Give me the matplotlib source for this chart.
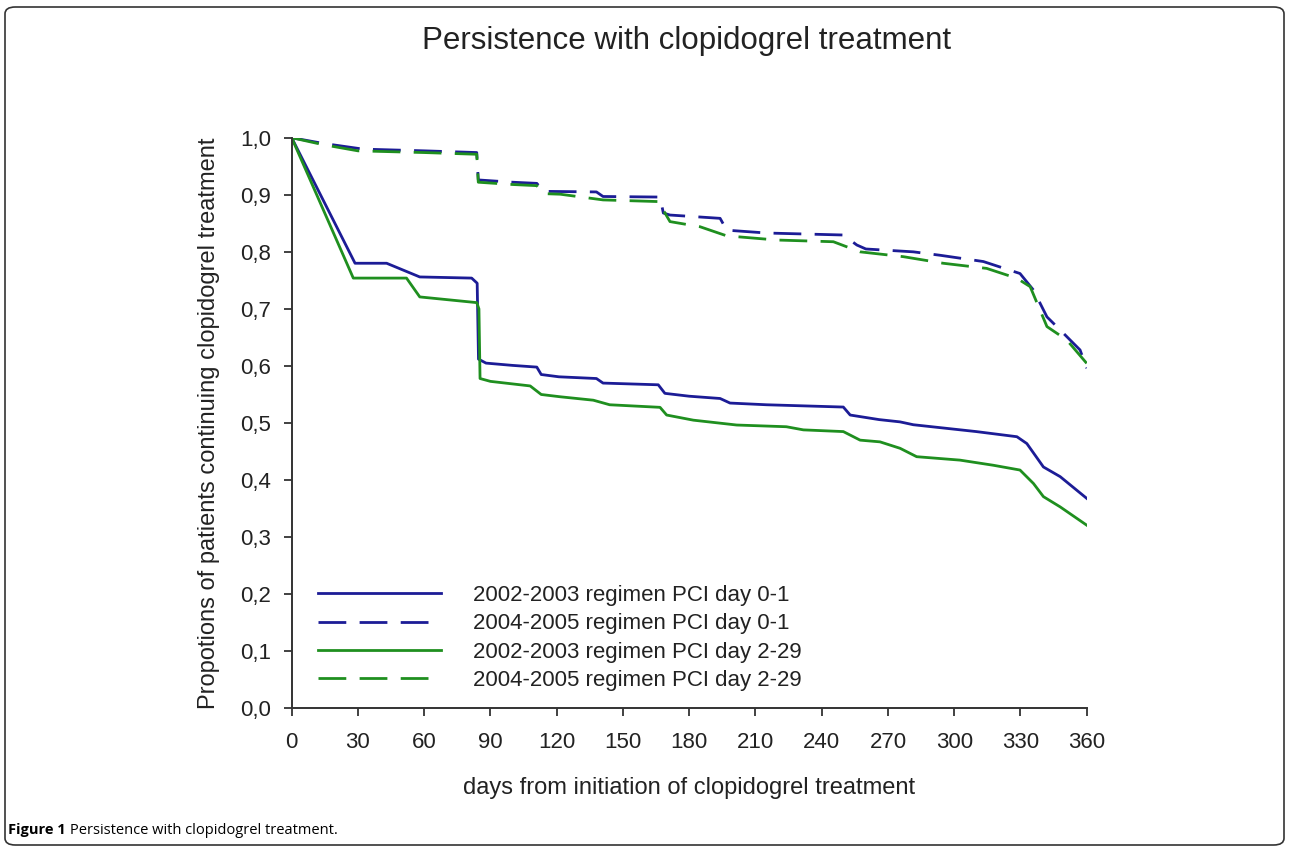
"""
Persistence with clopidogrel treatment
"""
# ====================================================== Imports ===================================================== #

import matplotlib
matplotlib.use("Agg")
import matplotlib.pyplot as plt
from matplotlib.patches import FancyBboxPatch

plt.rcParams['font.family'] = ['Liberation Sans', 'DejaVu Sans']

# ===================================================== Variables ==================================================== #

# 2002-2003 regimen PCI day 0-1 (solid blue)
days_bs = [0, 28.7, 43, 58, 81.5, 84.0, 84.6, 88, 100, 111, 113, 121, 138, 141, 166, 169, 180, 194, 198.5, 215,
           249.8, 252.9, 266, 275.5, 281.5, 310, 328.4, 332.9, 340.4, 348, 360]
vals_bs = [1.0, 0.780, 0.780, 0.756, 0.754, 0.745, 0.612, 0.605, 0.601, 0.598, 0.585, 0.581, 0.578, 0.570, 0.567,
           0.552, 0.547, 0.543, 0.535, 0.532, 0.528, 0.514, 0.506, 0.502, 0.497, 0.485, 0.476, 0.464, 0.423, 0.406,
           0.368]

# 2004-2005 regimen PCI day 0-1 (dashed blue)
days_bd = [0, 14.3, 32.4, 60, 83.8, 84.5, 100, 111, 114, 138, 141, 166.8, 168.3, 171.3, 194, 197, 215, 249.8,
           255.9, 260, 281.5, 293.6, 313.2, 329.8, 335.9, 342, 348, 357, 360]
vals_bd = [1.0, 0.990, 0.980, 0.977, 0.974, 0.926, 0.922, 0.920, 0.906, 0.905, 0.897, 0.896, 0.868, 0.8645,
           0.8587, 0.838, 0.833, 0.8295, 0.812, 0.805, 0.800, 0.794, 0.783, 0.762, 0.733, 0.686, 0.663, 0.628, 0.596]

# 2002-2003 regimen PCI day 2-29 (solid green)
days_gs = [0, 27.9, 52, 58, 83.8, 84.8, 85.3, 90, 108, 113, 121.6, 136.6, 144, 166.8, 169.8, 181.9, 201.5, 224,
           231.7, 249.8, 257.4, 266.4, 275.5, 283, 302.6, 317.7, 329.8, 335.9, 340.4, 348, 360]
vals_gs = [1.0, 0.754, 0.754, 0.721, 0.711, 0.700, 0.578, 0.573, 0.565, 0.550, 0.546, 0.540, 0.532, 0.5275, 0.514,
           0.505, 0.4965, 0.4935, 0.488, 0.485, 0.470, 0.467, 0.4557, 0.441, 0.435, 0.426, 0.4176, 0.394, 0.371,
           0.353, 0.321]

# 2004-2005 regimen PCI day 2-29 (dashed green)
days_gd = [0, 14, 30, 60, 83.8, 84.5, 100, 111, 114, 121.6, 141, 166.8, 168.3, 171.3, 184.9, 197, 219.7, 245.3,
           257.4, 277, 295, 314.7, 328.4, 334.4, 342, 351, 360]
vals_gd = [1.0, 0.988, 0.977, 0.974, 0.971, 0.922, 0.918, 0.916, 0.902, 0.901, 0.891, 0.888, 0.873, 0.853, 0.844,
           0.828, 0.8207, 0.8177, 0.800, 0.7915, 0.780, 0.771, 0.7536, 0.739, 0.669, 0.6455, 0.6046]

series_labels = ['2002-2003 regimen PCI day 0-1', '2004-2005 regimen PCI day 0-1',
                 '2002-2003 regimen PCI day 2-29', '2004-2005 regimen PCI day 2-29']

x_ticks = list(range(0, 361, 30))
y_ticks = [i / 10 for i in range(11)]
y_tick_labels = [f'{v:.1f}'.replace('.', ',') for v in y_ticks]

BLUE = '#1c1c96'
GREEN = '#1f8f1f'
LW = 2.0
DASH = (10, 4.8)


# ======================================================= Main ======================================================= #


def main():
    fig = plt.figure(figsize=(12.9, 8.48), dpi=100)
    ax = fig.add_axes([0.2261, 0.1647, 0.6163, 0.6729])

    ax.plot(days_bs, vals_bs, color=BLUE, lw=LW, label=series_labels[0])
    ax.plot(days_bd, vals_bd, color=BLUE, lw=LW, dashes=DASH, label=series_labels[1])
    ax.plot(days_gs, vals_gs, color=GREEN, lw=LW, label=series_labels[2])
    ax.plot(days_gd, vals_gd, color=GREEN, lw=LW, dashes=DASH, label=series_labels[3])

    ax.set_xlim(0, 360)
    ax.set_ylim(0, 1.0)
    ax.set_xticks(x_ticks)
    ax.set_yticks(y_ticks)
    ax.set_yticklabels(y_tick_labels)
    for side in ('top', 'right'):
        ax.spines[side].set_visible(False)
    for side in ('left', 'bottom'):
        ax.spines[side].set_linewidth(1.4)
        ax.spines[side].set_color('#333333')
    ax.tick_params(axis='both', direction='out', length=6, width=1.3, colors='#333333', labelsize=16,
                   labelcolor='#222222')
    ax.tick_params(axis='y', pad=9)
    ax.tick_params(axis='x', pad=11)

    ax.set_ylabel('Propotions of patients continuing clopidogrel treatment', fontsize=17, color='#222222')
    ax.yaxis.set_label_coords(-0.090, 0.5)
    ax.set_xlabel('days from initiation of clopidogrel treatment', fontsize=17, color='#222222')
    ax.xaxis.set_label_coords(0.5, -0.12)

    leg = ax.legend(loc='upper left', bbox_to_anchor=(0.033, 0.216), frameon=False, fontsize=16,
                    handlelength=5.52, handletextpad=1.45, labelspacing=0.33, borderaxespad=0, borderpad=0)
    for t in leg.get_texts():
        t.set_color('#222222')

    fig.text(687 / 1290, 1 - 41 / 848, 'Persistence with clopidogrel treatment', ha='center', va='center',
             fontsize=22.5, color='#222222')

    # caption below the chart
    cap1 = fig.text(8 / 1290, 1 - 830 / 848, 'Figure 1', ha='left', va='center', fontsize=10.5,
                    fontweight='bold', family=['Open Sans', 'DejaVu Sans'])
    fig.canvas.draw()
    bb = cap1.get_window_extent()
    fig.text((bb.x1 + 4) / 1290, 1 - 830 / 848, 'Persistence with clopidogrel treatment.', ha='left',
             va='center', fontsize=10.5, family=['Open Sans', 'DejaVu Sans'])

    # rounded frame around the figure
    frame = FancyBboxPatch((5 / 1290, 3 / 848), 1279 / 1290, 838 / 848, boxstyle='round,pad=0,rounding_size=0.008',
                           transform=fig.transFigure, fill=False, edgecolor='#333333', lw=1.2)
    fig.patches.append(frame)

    fig.savefig('out.png', dpi=100)


# ==================================================================================================================== #


if __name__ == '__main__':
    main()
